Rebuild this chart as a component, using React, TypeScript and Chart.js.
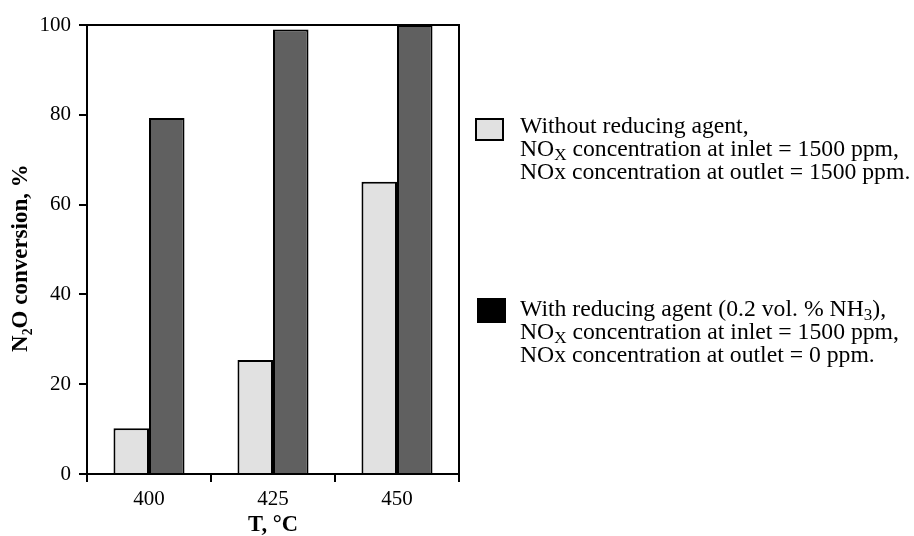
import React, { useEffect, useRef } from "react";
import { Chart, registerables } from "chart.js";

Chart.register(...registerables);

const categories = ["400", "425", "450"];
const withoutAgent = [10.2, 25.4, 65.1];
const withAgent = [79.3, 99.0, 100];
const yTicks = [0, 20, 40, 60, 80, 100];
const seriesLabels = ["Without reducing agent", "With reducing agent (0.2 vol. % NH₃)"];
const legendWithout = [
  "Without reducing agent,",
  "NO_{X} concentration at inlet = 1500 ppm,",
  "NOx concentration at outlet = 1500 ppm.",
];
const legendWith = [
  "With reducing agent (0.2 vol. % NH_{3}),",
  "NO_{X} concentration at inlet = 1500 ppm,",
  "NOx concentration at outlet = 0 ppm.",
];
const xTitle = "T, °C";
const yTitle = "N₂O conversion, %";

const LIGHT = "#e1e1e1";
const DARK = "#606060";
const FONT = "'Liberation Serif', 'Times New Roman', serif";

function renderLine(line: string) {
  const parts: React.ReactNode[] = [];
  const re = /_\{([^}]*)\}/g;
  let last = 0;
  let m: RegExpExecArray | null;
  let k = 0;
  while ((m = re.exec(line))) {
    parts.push(line.slice(last, m.index));
    parts.push(
      <sub key={k++} style={{ fontSize: "0.72em", lineHeight: 0, verticalAlign: "-0.22em" }}>
        {m[1]}
      </sub>
    );
    last = m.index + m[0].length;
  }
  parts.push(line.slice(last));
  return parts;
}

const framePlugin = {
  id: "frame",
  afterDatasetsDraw(chart: any) {
    const { ctx, chartArea } = chart;
    ctx.save();
    ctx.strokeStyle = "#000";
    ctx.lineWidth = 2;
    ctx.strokeRect(chartArea.left, chartArea.top, chartArea.right - chartArea.left, chartArea.bottom - chartArea.top);
    ctx.restore();
  },
};

export default function App() {
  const ref = useRef<HTMLCanvasElement | null>(null);

  useEffect(() => {
    if (!ref.current) return;
    const chart = new Chart(ref.current, {
      type: "bar",
      data: {
        labels: categories,
        datasets: [
          {
            label: seriesLabels[0],
            data: withoutAgent,
            backgroundColor: LIGHT,
            borderColor: "#000",
            borderWidth: 2,
          },
          {
            label: seriesLabels[1],
            data: withAgent,
            backgroundColor: DARK,
            borderColor: "#000",
            borderWidth: 2,
          },
        ],
      },
      options: {
        animation: false,
        responsive: true,
        maintainAspectRatio: false,
        layout: { padding: { left: 0, right: 455, top: 25, bottom: 0 } },
        plugins: {
          legend: { display: false },
          tooltip: { enabled: false },
        },
        datasets: {
          bar: { categoryPercentage: 0.573, barPercentage: 1 },
        },
        scales: {
          x: {
            offset: true,
            grid: {
              offset: true,
              drawOnChartArea: false,
              drawTicks: true,
              tickLength: 8,
              color: "#000",
              lineWidth: 2,
            },
            border: { display: true, color: "#000", width: 2 },
            ticks: { color: "#000", font: { family: FONT, size: 21 }, padding: 5 },
            title: {
              display: true,
              text: xTitle,
              color: "#000",
              font: { family: FONT, size: 22.5, weight: "bold", lineHeight: 1 },
              padding: { top: 0, bottom: 0 },
            },
            afterFit(scale: any) {
              scale.height = 62;
            },
          },
          y: {
            min: 0,
            max: 100,
            afterBuildTicks(scale: any) {
              scale.ticks = yTicks.map((v) => ({ value: v }));
            },
            grid: {
              drawOnChartArea: false,
              drawTicks: true,
              tickLength: 8,
              color: "#000",
              lineWidth: 2,
            },
            border: { display: true, color: "#000", width: 2 },
            ticks: { color: "#000", font: { family: FONT, size: 21 }, padding: 8 },
            title: {
              display: true,
              text: yTitle + "\u00a0\u00a0\u00a0",
              color: "#000",
              font: { family: FONT, size: 23, weight: "bold" },
              padding: { top: 7, bottom: 0 },
            },
            afterFit(scale: any) {
              scale.width = 87;
            },
          },
        },
      },
      plugins: [framePlugin],
    } as any);
    return () => chart.destroy();
  }, []);

  const textStyle: React.CSSProperties = {
    position: "absolute",
    fontFamily: FONT,
    fontSize: 23.7,
    lineHeight: "23px",
    whiteSpace: "nowrap",
    color: "#000",
  };

  return (
    <div style={{ position: "absolute", left: 0, top: 0, width: 914, height: 536, background: "#fff" }}>
      <canvas ref={ref} style={{ position: "absolute", left: 0, top: 0, width: 914, height: 536 }} />
      <div
        style={{
          position: "absolute",
          left: 475,
          top: 118,
          width: 29,
          height: 23,
          boxSizing: "border-box",
          border: "2px solid #000",
          background: LIGHT,
        }}
      />
      <div style={{ ...textStyle, left: 520, top: 114 }}>
        {legendWithout.map((l, i) => (
          <div key={i}>{renderLine(l)}</div>
        ))}
      </div>
      <div
        style={{
          position: "absolute",
          left: 477,
          top: 298,
          width: 29,
          height: 25,
          boxSizing: "border-box",
          border: "1px solid #000",
          background: "#000",
        }}
      />
      <div style={{ ...textStyle, left: 520, top: 297 }}>
        {legendWith.map((l, i) => (
          <div key={i}>{renderLine(l)}</div>
        ))}
      </div>
    </div>
  );
}
